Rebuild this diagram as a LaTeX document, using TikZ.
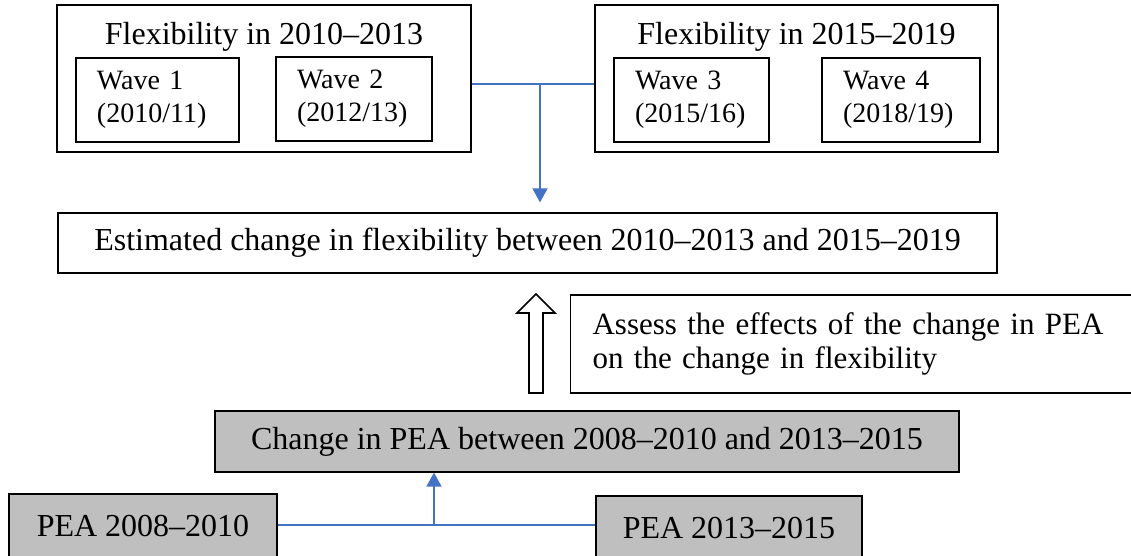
\documentclass[tikz,border=0pt]{standalone}
\usepackage{fontspec}
\setmainfont{Liberation Serif}
\usepackage{xcolor}
\usepackage{tikz}
\usetikzlibrary{arrows.meta}
\definecolor{linkColor}{RGB}{68, 114, 196}
\definecolor{peaGray}{RGB}{191, 191, 191}

\begin{document}
\begin{tikzpicture}[
        x=0.5pt, y=-0.5pt,
        group/.style={rectangle, draw=black, line width=0.6pt, inner sep=0pt},
        title/.style={anchor=base, font=\fontsize{16}{18}\selectfont, inner sep=0pt},
        wave/.style={rectangle, draw=black, line width=0.6pt, align=left, text width=#1, inner xsep=10.5pt, minimum height=42pt, font=\fontsize{14}{16.5}\selectfont},
        block/.style={rectangle, draw=black, line width=0.6pt, align=center, inner sep=0pt, font=\fontsize{16}{18}\selectfont},
        pea/.style={block, fill=peaGray},
        link/.style={draw=linkColor, line width=0.6pt},
        feed/.style={draw=linkColor, line width=0.8pt, -{Triangle[length=7pt, width=7.5pt]}},
        hollow/.style={draw=black, line width=0.8pt, fill=white, line join=miter}
    ]
    \useasboundingbox (0,0) rectangle (1131,556);

    % Nodes
    \node (early) [group, minimum width=207pt, minimum height=73.5pt] at (264,78.5) {};
    \node (late) [group, minimum width=201.5pt, minimum height=73.5pt] at (796.5,78.5) {};
    \node (earlytitle) [title] at (264,45) {Flexibility in 2010--2013};
    \node (latetitle) [title] at (796.5,45) {Flexibility in 2015--2019};
    \node (wave1) [wave=60.5pt] at (157.5,100) {Wave 1\\(2010/11)};
    \node (wave2) [wave=57pt] at (354,99) {Wave 2\\(2012/13)};
    \node (wave3) [wave=56.5pt] at (691.5,100) {Wave 3\\(2015/16)};
    \node (wave4) [wave=58pt] at (901,100) {Wave 4\\(2018/19)};
    \node (estimate) [block, minimum width=469.5pt, minimum height=30pt] at (527.5,243) {Estimated change in flexibility between 2010--2013 and 2015--2019};
    \node (assess) [block, anchor=west, align=left, text width=300pt, inner xsep=11pt, minimum height=49pt, font=\fontsize{15.5}{17}\selectfont] at (570,344) {Assess the effects of the change in PEA\\on the change in flexibility};
    \node (change) [pea, minimum width=372pt, minimum height=30.5pt] at (587,441.5) {Change in PEA between 2008--2010 and 2013--2015};
    \node (peaold) [pea, minimum width=134pt, minimum height=32pt] at (143,526) {PEA 2008--2010};
    \node (peanew) [pea, minimum width=133pt, minimum height=32pt] at (729,528) {PEA 2013--2015};
    \coordinate (topjoin) at (540,84);
    \coordinate (botjoin) at (434,525);

    % Hollow arrow
    \draw [hollow] (529,393) -- (529,313) -- (517,313) -- (536,294) -- (555,313) -- (543,313) -- (543,393) -- cycle;

    % Connectors
    \path [link] (early.east |- topjoin) -- (late.west |- topjoin);
    \path [feed, shorten >=5pt] (topjoin) -- (estimate.north -| topjoin);
    \path [link] (peaold.east |- botjoin) -- (peanew.west |- botjoin);
    \path [feed] (botjoin) -- (change.south -| botjoin);
\end{tikzpicture}
\end{document}
